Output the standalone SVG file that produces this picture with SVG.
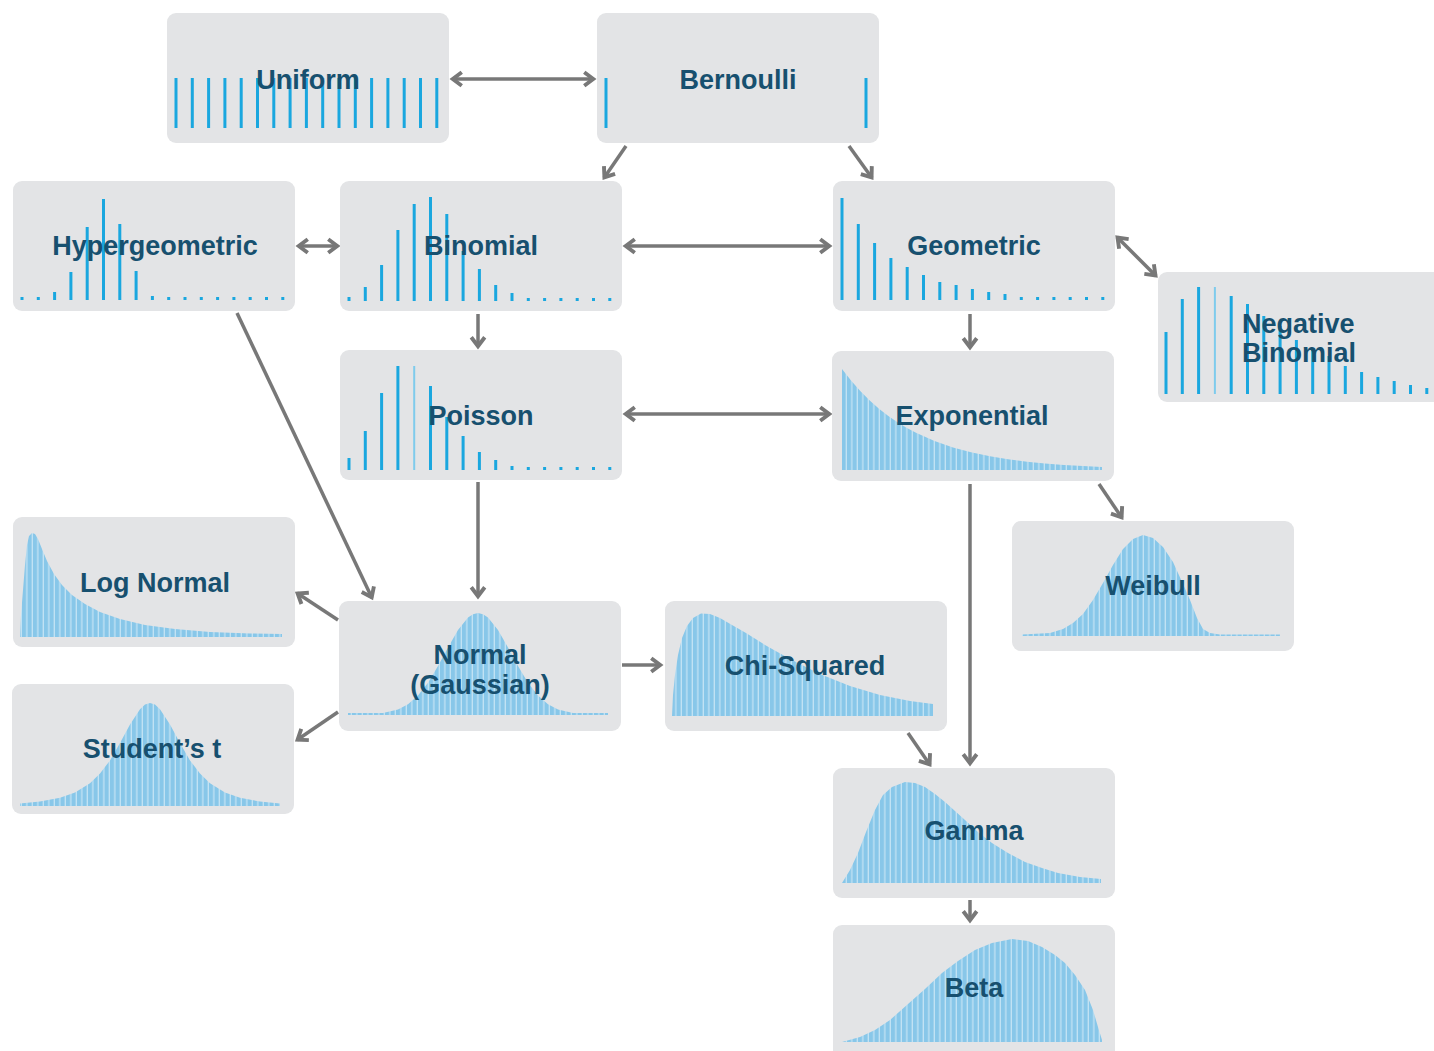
<svg xmlns="http://www.w3.org/2000/svg" width="1434" height="1051" viewBox="0 0 1434 1051">
<style>
.box{fill:#e3e4e6}
.bar{stroke:#1aa7df;stroke-width:3;fill:none}
.barl{stroke:#7fcbec;stroke-width:2;fill:none}
.curve{fill:url(#stripes)}
.lbl{font-family:"Liberation Sans",Arial,sans-serif;font-weight:700;font-size:27px;fill:#17506f;text-anchor:middle}
.conn{stroke:#787878;stroke-width:3.5;fill:none}
</style>
<defs>
<pattern id="stripes" patternUnits="userSpaceOnUse" width="5.5" height="10">
<rect width="5.5" height="10" fill="#88c7e9"/>
<rect x="4.2" width="1.3" height="10" fill="#c3e3f4"/>
</pattern>
<marker id="ah" viewBox="0 0 12 12" refX="9.5" refY="6" markerWidth="18" markerHeight="18" markerUnits="userSpaceOnUse" orient="auto-start-reverse">
<path d="M3,1.5 L9,6 L3,10.5" fill="none" stroke="#787878" stroke-width="2.6" stroke-linejoin="miter"/>
</marker>
</defs>
<rect width="1434" height="1051" fill="#ffffff"/>

<g id="connectors">
<line class="conn" x1="452" y1="79" x2="594" y2="79" marker-start="url(#ah)" marker-end="url(#ah)"/>
<line class="conn" x1="626" y1="146" x2="604" y2="178" marker-end="url(#ah)"/>
<line class="conn" x1="849" y1="146" x2="872" y2="178" marker-end="url(#ah)"/>
<line class="conn" x1="298" y1="246" x2="338" y2="246" marker-start="url(#ah)" marker-end="url(#ah)"/>
<line class="conn" x1="625" y1="246" x2="830" y2="246" marker-start="url(#ah)" marker-end="url(#ah)"/>
<line class="conn" x1="1117" y1="237" x2="1156" y2="276" marker-start="url(#ah)" marker-end="url(#ah)"/>
<line class="conn" x1="478" y1="314" x2="478" y2="347" marker-end="url(#ah)"/>
<line class="conn" x1="970" y1="314" x2="970" y2="348" marker-end="url(#ah)"/>
<line class="conn" x1="625" y1="414" x2="830" y2="414" marker-start="url(#ah)" marker-end="url(#ah)"/>
<line class="conn" x1="237" y1="313" x2="372" y2="598" marker-end="url(#ah)"/>
<line class="conn" x1="478" y1="482" x2="478" y2="597" marker-end="url(#ah)"/>
<line class="conn" x1="1099" y1="484" x2="1122" y2="518" marker-end="url(#ah)"/>
<line class="conn" x1="970" y1="484" x2="970" y2="764" marker-end="url(#ah)"/>
<line class="conn" x1="338" y1="620" x2="297" y2="593" marker-end="url(#ah)"/>
<line class="conn" x1="338" y1="712" x2="297" y2="740" marker-end="url(#ah)"/>
<line class="conn" x1="622" y1="665" x2="661" y2="665" marker-end="url(#ah)"/>
<line class="conn" x1="908" y1="733" x2="930" y2="765" marker-end="url(#ah)"/>
<line class="conn" x1="970" y1="900" x2="970" y2="921" marker-end="url(#ah)"/>
</g>

<g id="uniform">
<rect class="box" x="167" y="13" width="282" height="130" rx="9"/>
<path class="bar" d="M176,128V78M192.3,128V78M208.6,128V78M224.9,128V78M241.2,128V78M257.5,128V78M273.8,128V78M290.1,128V78M306.4,128V78M322.7,128V78M339,128V78M355.3,128V78M371.6,128V78M387.9,128V78M404.2,128V78M420.5,128V78M436.8,128V78"/>
<text class="lbl" x="308" y="89">Uniform</text>
</g>

<g id="bernoulli">
<rect class="box" x="597" y="13" width="282" height="130" rx="9"/>
<path class="bar" d="M606,128V78M866,128V78"/>
<text class="lbl" x="738" y="89">Bernoulli</text>
</g>

<g id="hypergeometric">
<rect class="box" x="13" y="181" width="282" height="130" rx="9"/>
<path class="bar" d="M22,300v-3M38.3,300v-3M54.6,300v-8M70.9,300v-28M87.2,300v-73M103.5,300v-101M119.8,300v-76M136.1,300v-29M152.4,300v-4M168.7,300v-3M185,300v-3M201.3,300v-3M217.6,300v-3M233.9,300v-3M250.2,300v-3M266.5,300v-3M282.8,300v-3"/>
<text class="lbl" x="155" y="255">Hypergeometric</text>
</g>

<g id="binomial">
<rect class="box" x="340" y="181" width="282" height="130" rx="9"/>
<path class="bar" d="M349,301v-4M365.3,301v-14M381.6,301v-36M397.9,301v-71M414.2,301v-97M430.5,301v-104M446.8,301v-87M463.1,301v-50M479.4,301v-32M495.7,301v-16M512,301v-8M528.3,301v-3M544.6,301v-3M560.9,301v-3M577.2,301v-3M593.5,301v-3M609.8,301v-3"/>
<text class="lbl" x="481" y="255">Binomial</text>
</g>

<g id="geometric">
<rect class="box" x="833" y="181" width="282" height="130" rx="9"/>
<path class="bar" d="M842,300v-102M858.3,300v-76M874.6,300v-57M890.9,300v-42M907.2,300v-33M923.5,300v-25M939.8,300v-18M956.1,300v-15M972.4,300v-11M988.7,300v-8M1005,300v-6M1021.3,300v-3M1037.6,300v-3M1053.9,300v-3M1070.2,300v-3M1086.5,300v-3M1102.8,300v-3"/>
<text class="lbl" x="974" y="255">Geometric</text>
</g>

<g id="negative-binomial">
<rect class="box" x="1158" y="272" width="290" height="130" rx="9"/>
<path class="bar" d="M1166,394v-62M1182.3,394v-95M1198.6,394v-107M1231.2,394v-98M1247.5,394v-90M1263.8,394v-78M1280.1,394v-68M1296.4,394v-54M1312.7,394v-45M1329,394v-38M1345.3,394v-28M1361.6,394v-22M1377.9,394v-17M1394.2,394v-13M1410.5,394v-9M1426.8,394v-6"/>
<path class="barl" d="M1214.9,394v-107"/>
<text class="lbl" x="1242" y="333" style="text-anchor:start">Negative</text>
<text class="lbl" x="1242" y="362" style="text-anchor:start">Binomial</text>
</g>

<g id="poisson">
<rect class="box" x="340" y="350" width="282" height="130" rx="9"/>
<path class="bar" d="M349,470v-12M365.3,470v-39M381.6,470v-77M397.9,470v-104M430.5,470v-84M446.8,470v-53M463.1,470v-34M479.4,470v-18M495.7,470v-10M512,470v-4M528.3,470v-3M544.6,470v-3M560.9,470v-3M577.2,470v-3M593.5,470v-3M609.8,470v-3"/>
<path class="barl" d="M414.2,470v-104"/>
<text class="lbl" x="481" y="425">Poisson</text>
</g>

<g id="exponential">
<rect class="box" x="832" y="351" width="282" height="130" rx="9"/>
<path class="curve" d="M842,470L842,369L851,380.6L860.5,391.3L870,400.8L879,408.7L888,415.8L897.5,422.3L906.5,427.8L916,432.8L934.5,441.1L953,447.5L971,452.3L990,456.3L1008,459.3L1027,461.7L1045,463.5L1064,465L1083,466.1L1102,467L1102,470Z"/>
<text class="lbl" x="972" y="425">Exponential</text>
</g>

<g id="log-normal">
<rect class="box" x="13" y="517" width="282" height="130" rx="9"/>
<path class="curve" d="M20,637L21,615L23,590L25,565L27,545L29,536L32,533L35,534L38,539L42,549L47,561L54,574L62,585L72,595L85,604L100,612L120,619L145,625L175,629L210,632L250,633.5L282,634L282,637Z"/>
<text class="lbl" x="155" y="592">Log Normal</text>
</g>

<g id="students-t">
<rect class="box" x="12" y="684" width="282" height="130" rx="9"/>
<path class="curve" d="M20,806L20,803.4L40,801.5L60,797.8L75,792.5L90,783.3L100,773.5L110,760.4L120,743L130,724.6L140,709.2L145,704.6L150,703L155,704.6L160,709.2L170,724.6L180,743L190,760.4L200,773.5L210,783.3L225,792.5L240,797.8L260,801.5L280,803.4L280,806Z"/>
<text class="lbl" x="152" y="758">Student’s t</text>
</g>

<g id="normal">
<rect class="box" x="339" y="601" width="282" height="130" rx="9"/>
<path class="curve" d="M348,715L348,713L383,713L398,709.6L408,704.2L418,695.5L428,682.7L438,666.1L448,647.5L458,630.1L468,617.6L473,614.2L478,613L483,614.2L488,617.6L498,630.1L508,647.5L518,666.1L528,682.7L538,695.5L548,704.2L558,709.6L573,713L608,713L608,715Z"/>
<text class="lbl" x="480" y="664">Normal</text>
<text class="lbl" x="480" y="694">(Gaussian)</text>
</g>

<g id="chi-squared">
<rect class="box" x="665" y="601" width="282" height="130" rx="9"/>
<path class="curve" d="M672,716L673,695L675,675L678,655L682,638L687,626L693,618L701,613.5L710,614L720,618L732,625L746,633L765,645L790,659L820,674L850,686L880,695L910,701L933,704L933,716Z"/>
<text class="lbl" x="805" y="675">Chi-Squared</text>
</g>

<g id="weibull">
<rect class="box" x="1012" y="521" width="282" height="130" rx="9"/>
<path class="curve" d="M1022,636L1022,634.5L1050,633L1063,629L1073,623L1083,614L1093,600L1103,583L1113,565L1123,549L1133,539L1143,535L1153,538L1163,547L1173,562L1183,584L1190,600L1197,618L1203,629L1210,633L1220,634.5L1280,634.5L1280,636Z"/>
<text class="lbl" x="1153" y="595">Weibull</text>
</g>

<g id="gamma">
<rect class="box" x="833" y="768" width="282" height="130" rx="9"/>
<path class="curve" d="M842,883L850,870L858,853L866,832L875,810L883,795L892,787L905,782L915,783L925,787L935,794L945,802L955,811L965,820L978,832L992,843L1008,853L1025,862L1042,868L1058,873L1080,877L1101,879L1101,883Z"/>
<text class="lbl" x="974" y="840">Gamma</text>
</g>

<g id="beta">
<rect class="box" x="833" y="925" width="282" height="140" rx="9"/>
<path class="curve" d="M842,1042L860,1037L875,1030L890,1020L908,1004L925,989L942,973L958,961L975,950L992,943L1012,939L1028,941L1042,947L1055,955L1065,963L1075,975L1085,990L1093,1010L1098,1027L1102,1040L1102,1042Z"/>
<text class="lbl" x="974" y="997">Beta</text>
</g>
</svg>
